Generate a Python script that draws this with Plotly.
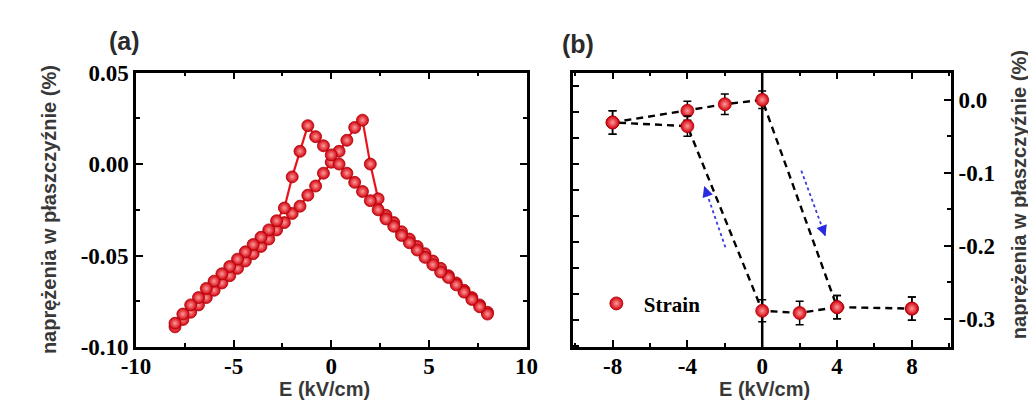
import plotly.graph_objects as go

W, H = 1036, 414

# ---------------- Panel (a) data ----------------
E_fwd = [-8.0, -7.6, -7.2, -6.8, -6.4, -6.0, -5.6, -5.2, -4.8, -4.4, -4.0, -3.6, -3.2, -2.8,
         -2.4, -2.0, -1.6, -1.2, -0.8, -0.4, 0.0, 0.4, 0.8, 1.2, 1.6, 2.0, 2.4, 2.8, 3.2, 3.6,
         4.0, 4.4, 4.8, 5.2, 5.6, 6.0, 6.4, 6.8, 7.2, 7.6, 8.0]
S_fwd = [-0.089, -0.085, -0.081, -0.077, -0.073, -0.069, -0.065, -0.061, -0.057, -0.053,
         -0.049, -0.045, -0.041, -0.036, -0.032, -0.027, -0.023, -0.017, -0.012, -0.005,
         0.001, 0.007, 0.013, 0.020, 0.024, 0.000, -0.019, -0.028, -0.032, -0.037,
         -0.041, -0.045, -0.049, -0.053, -0.057, -0.061, -0.065, -0.069, -0.073, -0.077, -0.081]

E_rev = [8.0, 7.6, 7.2, 6.8, 6.4, 6.0, 5.6, 5.2, 4.8, 4.4, 4.0, 3.6, 3.2, 2.8, 2.4, 2.0,
         1.6, 1.2, 0.8, 0.4, 0.0, -0.4, -0.8, -1.2, -1.6, -2.0, -2.4, -2.8, -3.2, -3.6,
         -4.0, -4.4, -4.8, -5.2, -5.6, -6.0, -6.4, -6.8, -7.2, -7.6, -8.0]
S_rev = [-0.082, -0.078, -0.074, -0.070, -0.066, -0.062, -0.059, -0.055, -0.051, -0.047,
         -0.043, -0.039, -0.034, -0.030, -0.025, -0.020, -0.015, -0.010, -0.005, 0.000,
         0.005, 0.010, 0.015, 0.021, 0.007, -0.007, -0.024, -0.031, -0.036, -0.040,
         -0.044, -0.048, -0.052, -0.056, -0.060, -0.064, -0.068, -0.073, -0.077, -0.082, -0.087]

# ---------------- Panel (b) data ----------------
E_up = [-8, -4, -2, 0, 4, 8]
S_up = [-0.031, -0.015, -0.006, 0.000, -0.284, -0.286]
err_up = [0.016, 0.013, 0.014, 0.012, 0.016, 0.016]

E_down = [8, 4, 2, 0, -4, -8]
S_down = [-0.286, -0.284, -0.292, -0.289, -0.036, -0.031]
err_down = [0.016, 0.016, 0.016, 0.015, 0.014, 0.016]

# guide arrows (tail -> head) in data units
arrow_left_E = [-1.97, -3.10]
arrow_left_S = [-0.202, -0.118]
arrow_right_E = [2.09, 3.38]
arrow_right_S = [-0.097, -0.187]

# tick labels
a_xticks = [-10, -5, 0, 5, 10]
a_xtext = ["-10", "-5", "0", "5", "10"]
a_yticks = [-0.10, -0.05, 0.00, 0.05]
a_ytext = ["-0.10", "-0.05", "0.00", "0.05"]
b_xticks = [-8, -4, 0, 4, 8]
b_xtext = ["-8", "-4", "0", "4", "8"]
b_yticks = [-0.3, -0.2, -0.1, 0.0]
b_ytext = ["-0.3", "-0.2", "-0.1", "0.0"]

RED = "#e8141c"
sphere = dict(color="#d0000c", gradient=dict(type="radial", color="#ff9a9a"),
              line=dict(color="#b00008", width=0.8))


def px(x, y):
    return x / W, 1 - y / H


fig = go.Figure()

for E, S in ((E_fwd, S_fwd), (E_rev, S_rev)):
    fig.add_trace(go.Scatter(x=E, y=S, mode="lines+markers", xaxis="x", yaxis="y",
                             line=dict(color=RED, width=2.2),
                             marker=dict(size=12, **sphere), showlegend=False))

# panel b dashed paths (the down sweep starts where the up sweep ended)
dash = dict(color="black", width=2.4, dash="7px,5px")
fig.add_trace(go.Scatter(x=E_up, y=S_up, mode="lines", xaxis="x2", yaxis="y2",
                         line=dash, showlegend=False, hoverinfo="skip"))
fig.add_trace(go.Scatter(x=E_down[1:], y=S_down[1:], mode="lines", xaxis="x2", yaxis="y2",
                         line=dash, showlegend=False, hoverinfo="skip"))
# blue guides
for ex, sy in ((arrow_left_E, arrow_left_S), (arrow_right_E, arrow_right_S)):
    fig.add_trace(go.Scatter(x=ex, y=sy, mode="lines", xaxis="x2", yaxis="y2",
                             line=dict(color="#3a3ae0", width=1.8, dash="dot"), showlegend=False))

for i, (E, S, err) in enumerate(((E_up, S_up, err_up), (E_down, S_down, err_down))):
    fig.add_trace(go.Scatter(x=E, y=S, mode="markers", xaxis="x2", yaxis="y2",
                             name="Strain", showlegend=(i == 0),
                             error_y=dict(type="data", array=err, color="black", thickness=1.5, width=4),
                             marker=dict(size=13, **sphere)))

# invisible trace to register the left tick axis of panel b
fig.add_trace(go.Scatter(x=[], y=[], xaxis="x2", yaxis="y3", showlegend=False))

tickfont = dict(family="Liberation Serif", size=23, color="black", weight="bold")
axline = dict(showline=True, linecolor="black", linewidth=2.5, showgrid=False, zeroline=False,
              ticks="inside", ticklen=7, tickwidth=2, tickcolor="black", tickfont=tickfont)
xshift = dict(ticklabelstandoff=-3)

dom_a = [116 / W, 517 / W]
dom_b = [565 / W, 953 / W]
dom_y = [1 - 348 / H, 1 - 56 / H]

fig.update_layout(
    width=W, height=H, margin=dict(l=0, r=0, t=0, b=0),
    paper_bgcolor="white", plot_bgcolor="white",
    xaxis=dict(domain=dom_a, anchor="y", range=[-10, 10], tickmode="array", tickvals=a_xticks,
               ticktext=a_xtext, mirror="ticks",
               minor=dict(tickmode="linear", tick0=0, dtick=2.5, ticks="inside", ticklen=4,
                          tickwidth=2, tickcolor="black"), **axline, **xshift),
    yaxis=dict(domain=dom_y, anchor="x", range=[-0.10, 0.05], tickmode="array", tickvals=a_yticks,
               ticktext=a_ytext, mirror="ticks",
               minor=dict(tickmode="linear", tick0=0, dtick=0.025, ticks="inside", ticklen=4,
                          tickwidth=2, tickcolor="black"), **axline),
    xaxis2=dict(domain=dom_b, anchor="y2", range=[-10.1, 10.1], tickmode="array", tickvals=b_xticks,
                ticktext=b_xtext, mirror="ticks",
                minor=dict(tickmode="linear", tick0=0, dtick=2, ticks="inside", ticklen=4,
                           tickwidth=2, tickcolor="black"), **axline, **xshift),
    yaxis2=dict(domain=dom_y, anchor="x2", side="right", range=[-0.3386, 0.0373], tickmode="array",
                tickvals=b_yticks, ticktext=b_ytext, mirror=True,
                minor=dict(tickmode="linear", tick0=0, dtick=0.05, ticks="inside", ticklen=4,
                           tickwidth=2, tickcolor="black"), **axline),
    yaxis3=dict(overlaying="y2", anchor="x2", side="left", range=[-0.05, 10.53], dtick=1, tick0=0,
                showticklabels=False, showline=False, showgrid=False, zeroline=False,
                ticks="inside", ticklen=6, tickwidth=2, tickcolor="black"),
    legend=dict(x=px(581, 0)[0], y=px(0, 302)[1], xanchor="left", yanchor="middle",
                bgcolor="rgba(0,0,0,0)", itemwidth=45,
                font=dict(family="Liberation Serif", size=21, color="black", weight="bold")),
)

# vertical line at E = 0 in panel b
fig.add_shape(type="line", xref="x2", yref="y2 domain", x0=0, x1=0, y0=0, y1=1,
              line=dict(color="black", width=2.5), layer="below")

# arrowheads
for ex, sy in ((arrow_left_E, arrow_left_S), (arrow_right_E, arrow_right_S)):
    fig.add_annotation(x=ex[1], y=sy[1], ax=ex[1] - (ex[1] - ex[0]) * 0.15,
                       ay=sy[1] - (sy[1] - sy[0]) * 0.15, xref="x2", yref="y2", axref="x2",
                       ayref="y2", text="", showarrow=True, arrowhead=2, arrowsize=1.2,
                       arrowwidth=1.8, arrowcolor="#2a2ae0")

for txt, (x, y), ang, sz in (("E (kV/cm)", (310, 393), 0, 20), ("E (kV/cm)", (761, 393), 0, 20),
                              ("naprężenia w płaszczyźnie (%)", (26, 202), -90, 20),
                              ("naprężenia w płaszczyźnie (%)", (1022, 186), -90, 20)):
    xp, yp = px(x, y)
    fig.add_annotation(x=xp, y=yp, xref="paper", yref="paper", text=txt, showarrow=False,
                       textangle=ang, xanchor="center", yanchor="middle",
                       font=dict(family="Liberation Sans", size=sz, color="#383838", weight="bold"))

for txt, (x, y) in (("(a)", (104, 22)), ("(b)", (570, 26))):
    xp, yp = px(x, y)
    fig.add_annotation(x=xp, y=yp, xref="paper", yref="paper", text=txt, showarrow=False,
                       font=dict(family="Liberation Sans", size=25, color="#2a2a2a", weight="bold"),
                       xanchor="center", yanchor="middle")

fig.write_html("out.html")
